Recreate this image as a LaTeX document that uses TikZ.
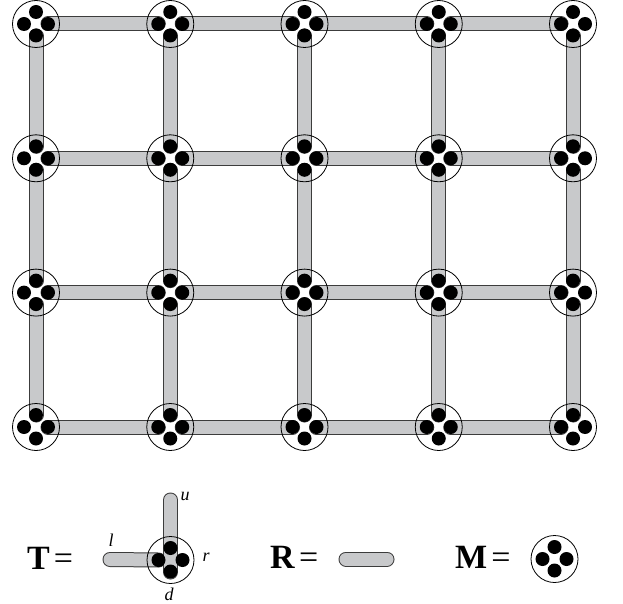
\documentclass[tikz,border=0pt]{standalone}
\usepackage{fontspec}
\setmainfont{Liberation Serif}
\definecolor{barfill}{RGB}{200,201,203}
\definecolor{baredge}{RGB}{60,60,60}
\tikzset{
  barout/.style={line width=15pt, line cap=round, baredge},
  barin/.style={line width=13pt, line cap=round, barfill},
  ring/.style={draw=black, line width=0.8pt},
  eqlabel/.style={font=\fontsize{34}{34}\selectfont, anchor=base west, inner sep=0pt},
  portlabel/.style={font=\fontsize{18}{18}\selectfont\itshape, inner sep=0pt},
  mod/.pic={
    \draw[ring] (0,0) circle (23.5pt);
    \fill (0,-12) circle (7pt);
    \fill (-12,0) circle (7pt);
    \fill (12,0) circle (7pt);
    \fill (0,11.5) circle (7pt);
  }
}
\newcommand{\capsule}[2]{%
  \draw[barout] #1 -- #2;
  \draw[barin] #1 -- #2;}
\begin{document}
\begin{tikzpicture}[x=1pt,y=-1pt]
\useasboundingbox (0,0) rectangle (623,604);
% grid coordinates
\foreach \i [count=\ci] in {36,170.25,304.5,438.75,573}{
  \foreach \j [count=\cj] in {24,158.3,292.6,427}{
    \coordinate (n-\ci-\cj) at (\i,\j);
  }
}
% horizontal bars
\foreach \a/\b in {1/2,2/3,3/4,4/5}{
  \foreach \r in {1,2,3,4}{
    \capsule{([xshift=12pt]n-\a-\r)}{([xshift=-12pt]n-\b-\r)}
  }
}
% vertical bars
\foreach \a/\b in {1/2,2/3,3/4}{
  \foreach \c in {1,2,3,4,5}{
    \capsule{([yshift=-12pt]n-\c-\a)}{([yshift=12pt]n-\c-\b)}
  }
}
% modules
\foreach \c in {1,2,3,4,5}{
  \foreach \r in {1,2,3,4}{
    \pic at (n-\c-\r) {mod};
  }
}
% legend T
\node[eqlabel] (tlab) at (27,569) {\textbf{T}\hspace{4pt}=};
\coordinate (tc) at (170.5,560);
\coordinate (tl) at (110,559.5);
\coordinate (tu) at (170.5,500);
\capsule{(tl)}{([xshift=-12pt]tc)}
\capsule{(tu)}{([yshift=-12pt]tc)}
\pic at (tc) {mod};
\node[portlabel] (lu) at (185,496) {u};
\node[portlabel] (ll) at (111,540) {l};
\node[portlabel] (lr) at (206,557) {r};
\node[portlabel] (ld) at (169,594) {d};
% legend R
\node[eqlabel] (rlab) at (270,568) {\textbf{R}\hspace{4pt}=};
\coordinate (r1) at (346,559);
\coordinate (r2) at (387,559);
\capsule{(r1)}{(r2)}
% legend M
\node[eqlabel] (mlab) at (455,568) {\textbf{M}\hspace{4pt}=};
\coordinate (mc) at (554.5,559);
\pic at (mc) {mod};
\end{tikzpicture}
\end{document}
